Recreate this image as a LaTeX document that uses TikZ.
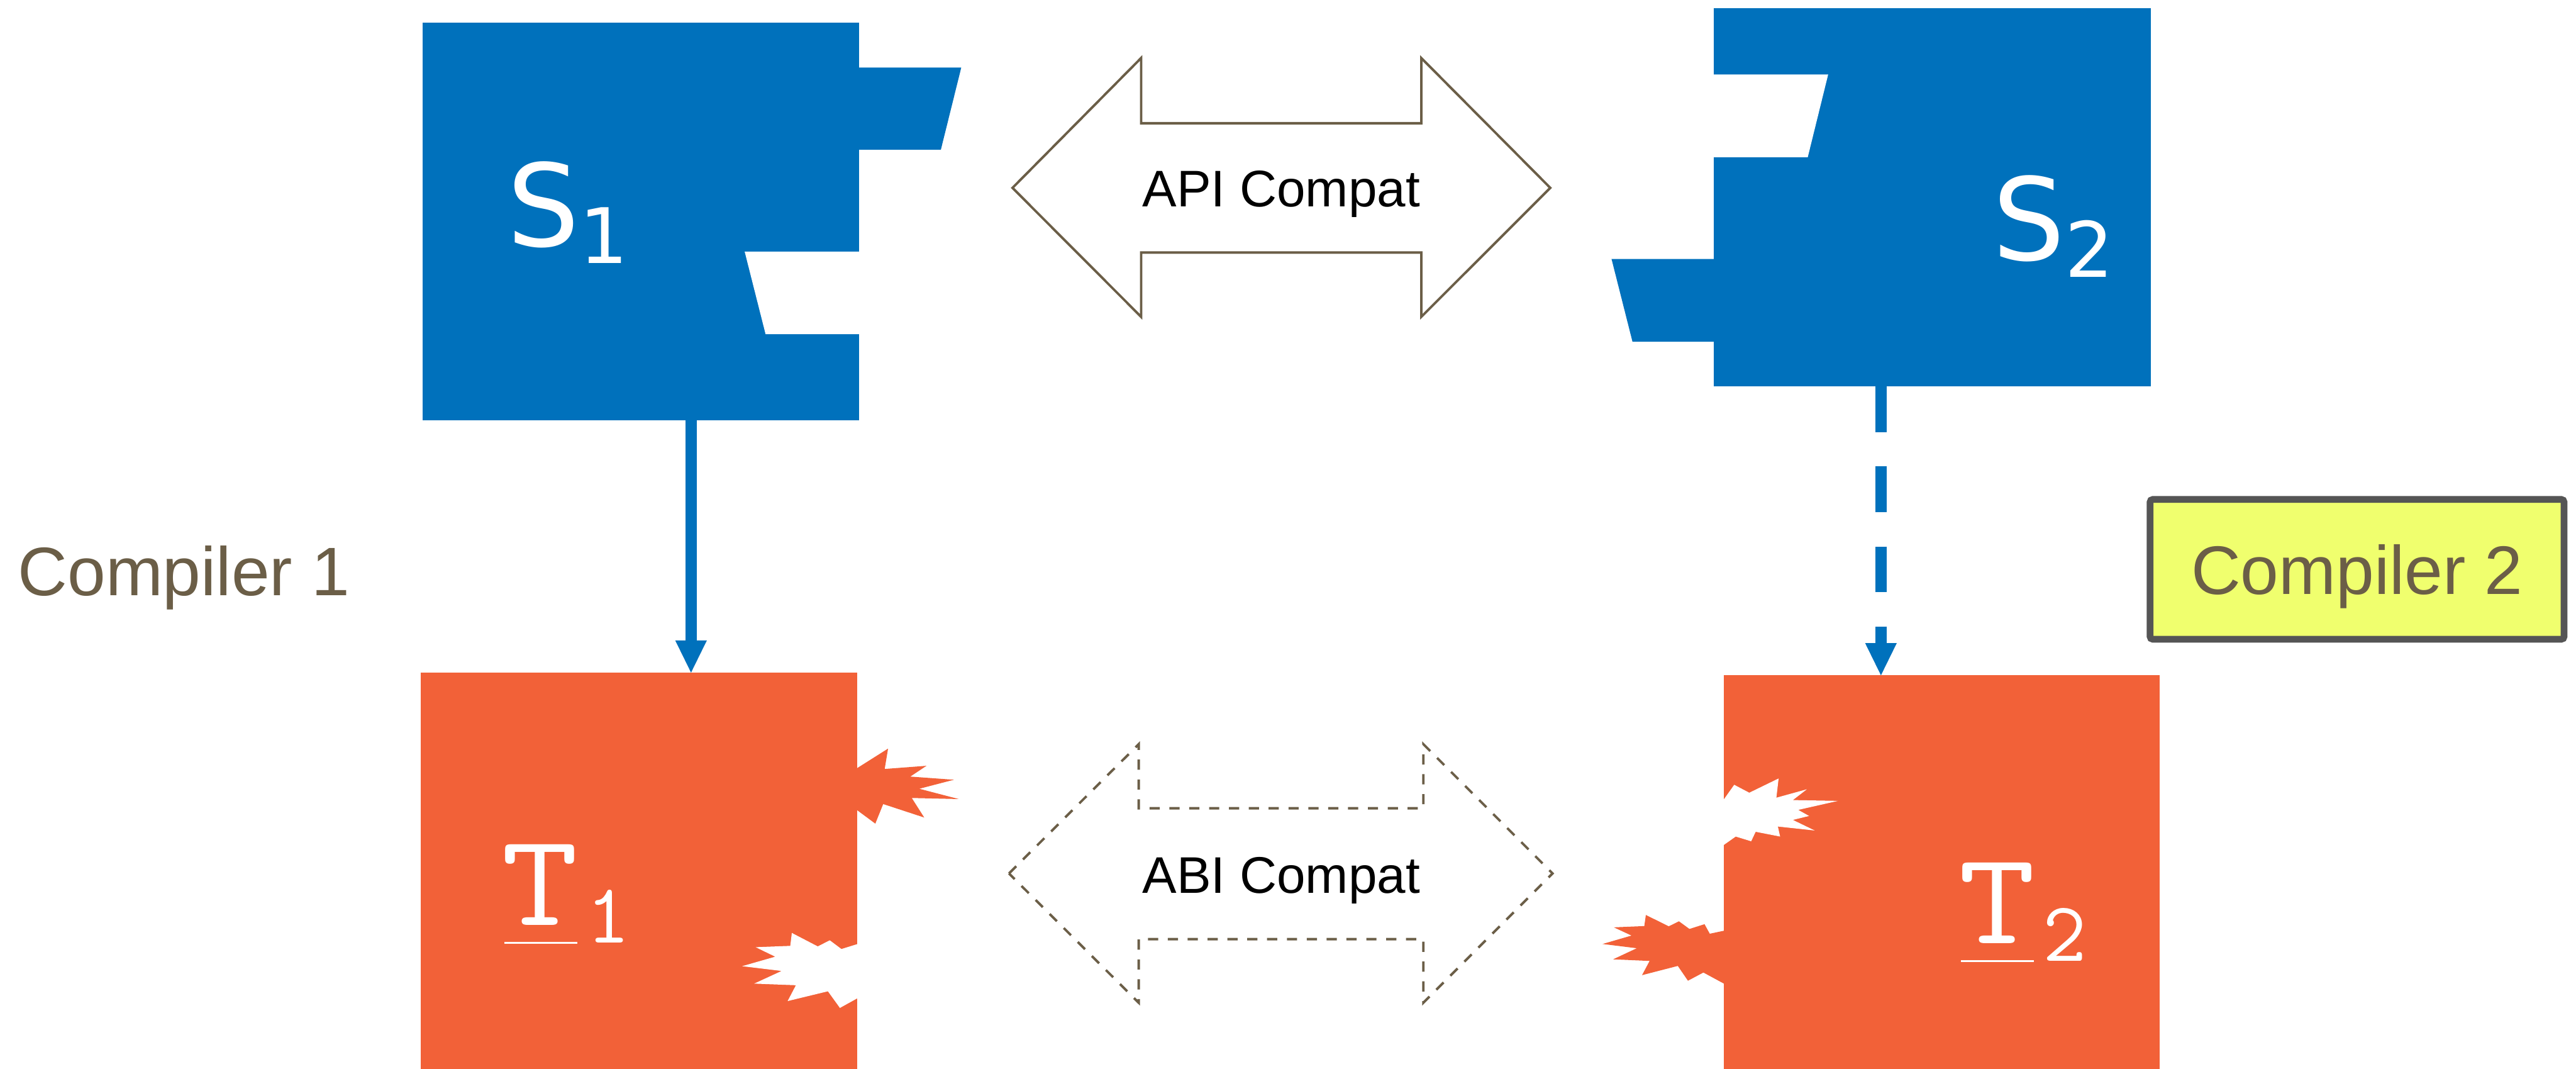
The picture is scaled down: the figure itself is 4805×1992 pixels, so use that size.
\documentclass[tikz,border=0pt]{standalone}
\usepackage{fontspec}
\usepackage{graphicx}
\newfontfamily\libsans{Liberation Sans}
\newfontfamily\djv{DejaVu Sans}
\usetikzlibrary{arrows.meta}
\definecolor{sblue}{HTML}{0071BC}
\definecolor{torange}{HTML}{F26138}
\definecolor{brownc}{HTML}{6B5E47}
\definecolor{yelc}{HTML}{F0FF6E}
\definecolor{grayb}{HTML}{555555}
\newcommand{\slab}[1]{{\djv\fontsize{60.6pt}{70pt}\selectfont S\raisebox{-9.1pt}{\fontsize{40.6pt}{48pt}\selectfont #1}}}
\newcommand{\tlab}[1]{{\ttfamily\fontsize{70pt}{80pt}\selectfont\rlap{\hspace{1.4pt}\rule[-10pt]{38.7pt}{1.14pt}}\scalebox{1.13}[1]{T}\kern4pt\raisebox{-9.5pt}{\fontsize{45pt}{52pt}\selectfont #1}}}
\tikzset{
  sbox/.style={fill=sblue, draw=none, inner sep=0pt, outer sep=0pt, anchor=north west},
  tbox/.style={fill=torange, draw=none, inner sep=0pt, outer sep=0pt, anchor=north west},
  lab/.style={text=white, inner sep=0pt, outer sep=0pt, anchor=base west},
  bluearrow/.style={draw=sblue, line width=0.21cm, line cap=butt,
    -{Triangle[length=0.6cm,width=0.59cm,line width=0pt]}},
  dashblue/.style={bluearrow, dash pattern=on 0.85cm off 0.64cm},
  compatarrow/.style={draw=brownc, fill=white, line width=0.045cm, line join=miter},
  compatdash/.style={compatarrow, dash pattern=on 0.19cm off 0.18cm},
  compattext/.style={font=\libsans\fontsize{27.3pt}{32pt}\selectfont, text=black, inner sep=0pt, anchor=base},
  comptext/.style={font=\libsans\fontsize{36.4pt}{42pt}\selectfont, text=brownc, inner sep=0pt},
}
\begin{document}
\begin{tikzpicture}[x=0.01cm,y=-0.01cm]
\useasboundingbox[fill=white] (0,0) rectangle (4805,1992);

% S1 block
\node[sbox, minimum width=8.145cm, minimum height=7.409cm] (S1) at (788,41.8) {};
\fill[sblue] (1600,126) -- (1793,126) -- (1755,279) -- (1600,279) -- cycle;
\fill[white] (1604,469) -- (1389,469) -- (1428,623) -- (1604,623) -- cycle;
\node[lab] (S1l) at (946,459) {\slab{1}};

% S2 block
\node[sbox, minimum width=8.14cm, minimum height=7.055cm] (S2) at (3197,14.8) {};
\fill[white] (3195,139) -- (3410,139) -- (3372,293) -- (3195,293) -- cycle;
\fill[sblue] (3199,483) -- (3006,483) -- (3045,637) -- (3199,637) -- cycle;
\node[lab] (S2l) at (3717,485) {\slab{2}};

% T1 block
\node[tbox, minimum width=8.14cm, minimum height=7.5cm] (T1) at (785,1254) {};
\fill[white] (1605,1758.4) -- (1569.5,1769.4) -- (1547.8,1753.2) -- (1525.3,1764.5) -- (1477,1739.4) -- (1474.1,1763.5) -- (1409.6,1766) -- (1446.1,1783.7) -- (1384.3,1801.4) -- (1458,1810.3) -- (1406.8,1833.9) -- (1484.6,1836.9) -- (1469.2,1866.4) -- (1544.3,1848.2) -- (1566.7,1879.2) -- (1605,1858) -- cycle;
\fill[torange] (1590,1437.7) -- (1656.5,1395.7) -- (1650.2,1433.7) -- (1728.1,1427.8) -- (1697.9,1447.9) -- (1779.3,1453.8) -- (1714.7,1470.6) -- (1788.4,1489.8) -- (1700.7,1487.8) -- (1723.9,1524.2) -- (1647.4,1499.1) -- (1632.7,1535.6) -- (1590,1504) -- cycle;
\node[lab] (T1l) at (936,1725) {\tlab{1}};

% T2 block
\node[tbox, minimum width=8.13cm, minimum height=7.5cm] (T2) at (3215,1259) {};
\fill[white] (3209,1499.5) -- (3234.8,1463.2) -- (3262.9,1478) -- (3317.6,1451.4) -- (3313.4,1487.3) -- (3370.2,1471.6) -- (3344.2,1491.7) -- (3428.4,1493.2) -- (3354.1,1510) -- (3374.4,1521.3) -- (3344.2,1528.7) -- (3384.9,1548.4) -- (3316.2,1541) -- (3320.4,1559.7) -- (3274.8,1550.8) -- (3266.4,1568.5) -- (3237.6,1559.7) -- (3216.6,1574.5) -- (3209,1579.9) -- cycle;
\fill[torange] (3225,1733.3) -- (3189.2,1740.9) -- (3179.4,1723.1) -- (3151.3,1732) -- (3131.7,1717.7) -- (3112.7,1727.1) -- (3070,1705.9) -- (3067.1,1726.6) -- (3010.3,1729) -- (3043.3,1744.3) -- (2989.3,1760) -- (3053.1,1767.9) -- (3008.9,1788.6) -- (3077,1791.6) -- (3062.9,1818.1) -- (3129.6,1800.9) -- (3148.5,1828.5) -- (3177.3,1813.2) -- (3225,1839) -- cycle;
\node[lab] (T2l) at (3653,1759) {\tlab{2}};

% compile arrows
\coordinate (a1) at (1289,0);
\coordinate (a2) at (3508.5,0);
\draw[bluearrow] (S1.south -| a1) -- (T1.north -| a1);
\draw[dashblue] (S2.south -| a2) -- (T2.north -| a2);

% API compat double arrow
\draw[compatarrow] (1888.6,350.3) -- (2128.5,108.2) -- (2128.5,229.8) -- (2651.1,229.8) -- (2651.1,108.2) -- (2891.7,350.3) -- (2651.1,590.7) -- (2651.1,470.9) -- (2128.5,470.9) -- (2128.5,590.7) -- cycle;
\node[compattext] (api) at (2390,385) {API Compat};

% ABI compat double arrow (dashed)
\draw[compatdash] (1882,1628.5) -- (2124,1387.5) -- (2124,1507) -- (2655,1507) -- (2655,1387.5) -- (2896,1628.5) -- (2655,1869.5) -- (2655,1751) -- (2124,1751) -- (2124,1869.5) -- cycle;
\node[compattext] (abi) at (2390,1665) {ABI Compat};

% compiler labels
\node[comptext, anchor=base] (c1) at (343,1110) {Compiler 1};
\node[comptext, draw=grayb, line width=0.125cm, fill=yelc, rounded corners=0.05cm,
      minimum width=7.717cm, minimum height=2.605cm, text depth=0pt] (c2) at (4396.6,1061.5) {Compiler 2};
\end{tikzpicture}
\end{document}
